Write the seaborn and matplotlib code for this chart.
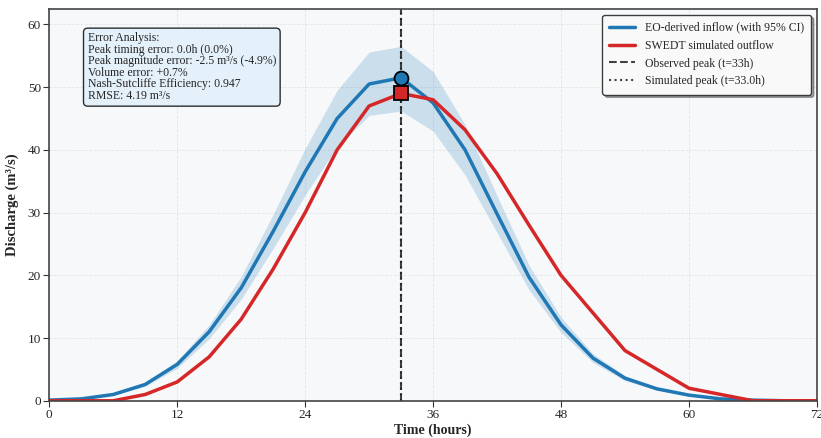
import numpy as np
import pandas as pd
import seaborn as sns
import matplotlib
matplotlib.use("Agg")
import matplotlib.pyplot as plt

hours = [0, 3, 6, 9, 12, 15, 18, 21, 24, 27, 30, 33, 36, 39, 42, 45, 48, 51, 54, 57, 60, 63, 66, 69, 72]
eo_inflow = [0.1, 0.3, 1.0, 2.6, 5.8, 11.0, 18.0, 27.0, 36.5, 45.0, 50.5, 51.5, 47.5, 40.0, 29.8,
             19.7, 12.1, 6.8, 3.6, 1.9, 0.9, 0.3, 0.1, 0.0, 0.0]
ci_upper = [0.12, 0.35, 1.15, 2.9, 6.4, 12.1, 19.8, 29.7, 40.2, 49.5, 55.6, 56.5, 52.5, 44.0, 32.7,
            21.6, 13.3, 7.5, 4.0, 2.1, 1.0, 0.35, 0.12, 0.0, 0.0]
ci_lower = [0.08, 0.27, 0.9, 2.3, 5.2, 9.9, 16.2, 24.3, 32.8, 40.5, 45.5, 46.2, 43.0, 36.0, 26.8,
            17.7, 10.9, 6.1, 3.2, 1.7, 0.8, 0.25, 0.08, 0.0, 0.0]
swedt_outflow = [0.0, 0.0, 0.0, 1.0, 3.0, 7.0, 13.0, 21.0, 30.0, 40.0, 47.0, 49.0, 48.0, 43.2, 36.2,
                 28.0, 20.0, 14.0, 8.0, 5.0, 2.0, 1.0, 0.0, 0.0, 0.0]
obs_peak_t = 33
sim_peak_t = 33.0
obs_peak_q = 51.5
sim_peak_q = 49.0

stats_text = ("Error Analysis:\n"
              "Peak timing error: 0.0h (0.0%)\n"
              "Peak magnitude error: -2.5 m³/s (-4.9%)\n"
              "Volume error: +0.7%\n"
              "Nash-Sutcliffe Efficiency: 0.947\n"
              "RMSE: 4.19 m³/s")

df = pd.DataFrame({"t": hours, "eo": eo_inflow, "sim": swedt_outflow,
                   "lo": ci_lower, "hi": ci_upper})

sns.set_style("whitegrid")
plt.rcParams["font.family"] = ["Liberation Serif", "DejaVu Serif"]
plt.rcParams["mathtext.fontset"] = "stix"

fig, ax = plt.subplots(figsize=(8.21, 4.38), dpi=100)
ax.set_facecolor("#f6f8fa")

blue = "#1f77b4"
red = "#d62728"

ax.fill_between(df["t"], df["lo"], df["hi"], color=blue, alpha=0.2, linewidth=0)
sns.lineplot(data=df, x="t", y="eo", ax=ax, color=blue, linewidth=2.5,
             label="EO-derived inflow (with 95% CI)")
sns.lineplot(data=df, x="t", y="sim", ax=ax, color=red, linewidth=2.5,
             label="SWEDT simulated outflow")
ax.axvline(obs_peak_t, color="#222222", linestyle="--", linewidth=1.5, alpha=0.85,
           label=f"Observed peak (t={obs_peak_t}h)")
ax.axvline(sim_peak_t, color="#222222", linestyle=":", linewidth=1.5, alpha=0.85,
           label=f"Simulated peak (t={sim_peak_t}h)")
ax.plot([obs_peak_t], [obs_peak_q], marker="o", markersize=10, color=blue,
        markeredgecolor="black", markeredgewidth=1.3, zorder=5)
ax.plot([sim_peak_t], [sim_peak_q], marker="s", markersize=10, color=red,
        markeredgecolor="black", markeredgewidth=1.3, zorder=5)

ax.set_xlim(0, 72)
ax.set_ylim(0, 62.5)
ax.set_xticks([0, 12, 24, 36, 48, 60, 72])
ax.set_yticks([0, 10, 20, 30, 40, 50, 60])
ax.set_xlabel("Time (hours)", fontsize=10, fontweight="bold", labelpad=2)
ax.set_ylabel("Discharge (m³/s)", fontsize=10.5, fontweight="bold", labelpad=6)
ax.tick_params(axis="both", labelsize=9.5, length=4, pad=2, color="#333333", left=True, bottom=True)
ax.grid(True, linestyle="--", linewidth=0.6, color="#dddddd", alpha=0.7)
for s in ax.spines.values():
    s.set_color("#444444")
    s.set_linewidth(1.2)

ax.text(0.05, 0.94, stats_text, transform=ax.transAxes, fontsize=8.5, va="top", ha="left",
        linespacing=0.95,
        bbox=dict(boxstyle="round,pad=0.35", facecolor="#e3f0fb", edgecolor="#222222",
                  linewidth=1.0, alpha=0.95))

leg = ax.legend(loc="upper right", fontsize=8.5, frameon=True, fancybox=True, shadow=True,
                framealpha=0.95, borderpad=0.6, handlelength=2.2, borderaxespad=0.5)
leg.get_frame().set_edgecolor("#333333")

fig.subplots_adjust(left=0.06, right=0.995, top=0.98, bottom=0.085)
fig.savefig("out.png", dpi=100)
